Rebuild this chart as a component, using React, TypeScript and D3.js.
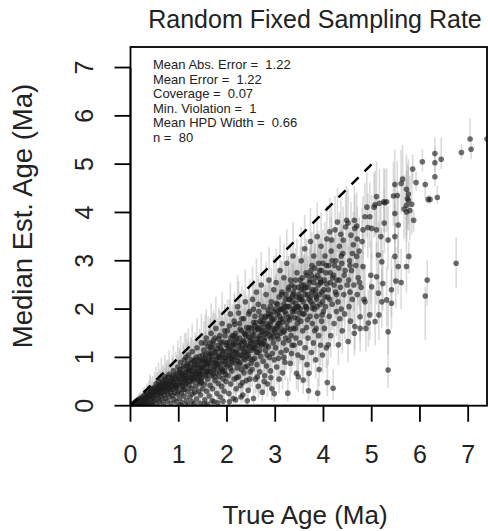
import React from "react";
import * as d3 from "d3";

const title = "Random Fixed Sampling Rate";
const xLabel = "True Age (Ma)";
const yLabel = "Median Est. Age (Ma)";
const xTicks = [0, 1, 2, 3, 4, 5, 6, 7];
const yTicks = [0, 1, 2, 3, 4, 5, 6, 7];
const statLabels = ["Mean Abs. Error = ", "Mean Error = ", "Coverage = ", "Min. Violation = ", "Mean HPD Width = ", "n = "];
const statValues = ["1.22", "1.22", "0.07", "1", "0.66", "80"];
const identityLine = [0, 5];

// [true age, median estimated age, HPD low, HPD high]
type Pt = [number, number, number, number];

const pts0to05: Pt[] = [[0.03,0.02,0.0,0.05],[0.05,0.04,0.01,0.09],[0.07,0.03,0.0,0.08],[0.09,0.07,0.02,0.14],[0.1,0.02,0.0,0.06],[0.12,0.09,0.03,0.18],[0.14,0.05,0.01,0.12],[0.15,0.11,0.04,0.22],[0.17,0.03,0.0,0.08],[0.18,0.13,0.05,0.26],[0.2,0.08,0.02,0.17],[0.21,0.16,0.06,0.3],[0.23,0.04,0.01,0.1],[0.24,0.12,0.04,0.25],[0.26,0.19,0.08,0.36],[0.27,0.07,0.02,0.15],[0.29,0.22,0.09,0.4],[0.3,0.14,0.05,0.3],[0.31,0.03,0.0,0.09],[0.33,0.1,0.03,0.22],[0.34,0.25,0.1,0.46],[0.35,0.17,0.06,0.33],[0.37,0.06,0.01,0.14],[0.38,0.28,0.12,0.52],[0.39,0.2,0.08,0.38],[0.41,0.12,0.04,0.26],[0.42,0.31,0.13,0.6],[0.43,0.04,0.0,0.11],[0.44,0.23,0.09,0.44],[0.45,0.16,0.05,0.33],[0.46,0.35,0.15,0.62],[0.47,0.09,0.02,0.2],[0.48,0.27,0.1,0.5],[0.49,0.2,0.07,0.4],[0.5,0.38,0.18,0.7],[0.22,0.01,0.0,0.04],[0.36,0.01,0.0,0.05],[0.45,0.02,0.0,0.07],[0.13,0.01,0.0,0.03],[0.4,0.36,0.2,0.65]];

const pts05to1: Pt[] = [[0.51,0.12,0.04,0.28],[0.52,0.3,0.12,0.58],[0.53,0.45,0.22,0.8],[0.54,0.05,0.01,0.13],[0.55,0.22,0.08,0.45],[0.56,0.37,0.16,0.7],[0.57,0.16,0.05,0.34],[0.58,0.5,0.25,0.9],[0.59,0.27,0.1,0.52],[0.6,0.08,0.02,0.18],[0.61,0.41,0.18,0.76],[0.62,0.2,0.07,0.42],[0.63,0.33,0.13,0.64],[0.64,0.55,0.3,1.0],[0.65,0.12,0.03,0.27],[0.66,0.28,0.1,0.55],[0.67,0.45,0.2,0.84],[0.68,0.03,0.0,0.09],[0.69,0.36,0.15,0.7],[0.7,0.22,0.08,0.46],[0.71,0.6,0.32,1.05],[0.72,0.15,0.05,0.32],[0.73,0.4,0.18,0.78],[0.74,0.3,0.11,0.6],[0.75,0.52,0.26,0.95],[0.76,0.09,0.02,0.2],[0.77,0.25,0.09,0.5],[0.78,0.44,0.2,0.85],[0.79,0.35,0.14,0.68],[0.8,0.65,0.36,1.15],[0.81,0.18,0.06,0.38],[0.82,0.48,0.22,0.9],[0.83,0.28,0.1,0.56],[0.84,0.05,0.01,0.12],[0.85,0.4,0.17,0.8],[0.86,0.58,0.3,1.05],[0.87,0.21,0.07,0.44],[0.88,0.34,0.13,0.66],[0.89,0.72,0.42,1.25],[0.9,0.13,0.04,0.3],[0.91,0.5,0.24,0.95],[0.92,0.27,0.1,0.55],[0.93,0.43,0.2,0.84],[0.94,0.62,0.33,1.12],[0.95,0.08,0.02,0.19],[0.96,0.37,0.15,0.72],[0.97,0.24,0.08,0.5],[0.98,0.8,0.48,1.35],[0.99,0.55,0.27,1.0],[1.0,0.31,0.12,0.62]];

const pts1to15: Pt[] = [[1.01,0.7,0.38,1.2],[1.02,0.15,0.05,0.33],[1.03,0.48,0.22,0.9],[1.04,0.9,0.55,1.45],[1.05,0.26,0.09,0.55],[1.06,0.62,0.32,1.1],[1.07,0.06,0.01,0.15],[1.08,0.4,0.17,0.8],[1.09,0.78,0.45,1.3],[1.1,0.55,0.27,1.0],[1.11,0.2,0.06,0.42],[1.12,0.95,0.6,1.5],[1.13,0.34,0.13,0.68],[1.14,0.68,0.36,1.18],[1.15,0.47,0.21,0.9],[1.16,0.1,0.02,0.24],[1.17,0.83,0.5,1.38],[1.18,0.58,0.29,1.05],[1.19,0.29,0.1,0.6],[1.2,1.05,0.68,1.6],[1.21,0.42,0.18,0.82],[1.22,0.72,0.4,1.25],[1.23,0.18,0.05,0.38],[1.24,0.52,0.25,0.98],[1.25,0.88,0.52,1.42],[1.26,0.36,0.14,0.72],[1.27,0.64,0.33,1.15],[1.28,1.12,0.75,1.7],[1.29,0.24,0.08,0.5],[1.3,0.5,0.23,0.95],[1.31,0.78,0.44,1.32],[1.32,0.04,0.0,0.11],[1.33,0.6,0.3,1.08],[1.34,0.95,0.58,1.52],[1.35,0.4,0.16,0.8],[1.36,0.7,0.37,1.22],[1.37,0.14,0.04,0.32],[1.38,1.2,0.82,1.8],[1.39,0.55,0.26,1.02],[1.4,0.85,0.5,1.4],[1.41,0.3,0.11,0.62],[1.42,0.66,0.34,1.18],[1.43,1.02,0.65,1.6],[1.44,0.46,0.2,0.9],[1.45,0.22,0.07,0.46],[1.46,0.75,0.42,1.3],[1.47,1.3,0.9,1.9],[1.48,0.58,0.28,1.06],[1.49,0.92,0.55,1.48],[1.5,0.35,0.13,0.7],[1.03,0.02,0.0,0.06],[1.18,0.02,0.0,0.07],[1.27,0.08,0.02,0.2],[1.44,0.05,0.01,0.13],[1.09,0.33,0.12,0.65],[1.21,0.8,0.46,1.33],[1.33,0.28,0.1,0.58],[1.41,0.5,0.23,0.95],[1.47,0.65,0.33,1.16],[1.15,1.0,0.65,1.52]];

const pts15to2: Pt[] = [[1.51,0.8,0.45,1.35],[1.52,1.15,0.75,1.75],[1.53,0.45,0.19,0.9],[1.54,0.12,0.03,0.28],[1.55,0.98,0.6,1.55],[1.56,0.65,0.33,1.18],[1.57,1.4,0.95,2.0],[1.58,0.3,0.1,0.62],[1.59,0.88,0.52,1.45],[1.6,0.55,0.26,1.05],[1.61,1.22,0.82,1.85],[1.62,0.72,0.38,1.28],[1.63,0.2,0.06,0.45],[1.64,1.05,0.66,1.65],[1.65,0.42,0.17,0.85],[1.66,0.82,0.46,1.4],[1.67,1.5,1.05,2.12],[1.68,0.62,0.3,1.14],[1.69,0.95,0.57,1.55],[1.7,0.35,0.12,0.72],[1.71,1.28,0.86,1.92],[1.72,0.75,0.4,1.3],[1.73,0.08,0.02,0.2],[1.74,1.1,0.7,1.72],[1.75,0.52,0.24,1.0],[1.76,0.9,0.53,1.5],[1.77,1.6,1.12,2.25],[1.78,0.68,0.34,1.22],[1.79,0.25,0.08,0.54],[1.8,1.18,0.76,1.82],[1.81,0.85,0.49,1.44],[1.82,0.46,0.2,0.92],[1.83,1.38,0.94,2.02],[1.84,0.6,0.29,1.12],[1.85,1.0,0.62,1.6],[1.86,0.18,0.05,0.42],[1.87,0.78,0.42,1.36],[1.88,1.3,0.88,1.95],[1.89,0.4,0.15,0.82],[1.9,1.7,1.2,2.35],[1.91,0.92,0.55,1.52],[1.92,0.56,0.26,1.08],[1.93,1.12,0.72,1.75],[1.94,0.3,0.1,0.63],[1.95,0.72,0.38,1.3],[1.96,1.45,1.0,2.1],[1.97,1.0,0.62,1.62],[1.98,0.5,0.22,0.98],[1.99,1.25,0.83,1.9],[2.0,0.82,0.46,1.42],[1.53,0.04,0.0,0.1],[1.6,0.03,0.0,0.08],[1.69,0.1,0.02,0.24],[1.81,0.06,0.01,0.15],[1.92,0.09,0.02,0.22],[1.55,1.3,0.9,1.9],[1.62,0.95,0.58,1.52],[1.72,1.35,0.93,1.98],[1.78,1.02,0.63,1.62],[1.85,0.7,0.36,1.26],[1.9,1.05,0.66,1.66],[1.97,0.65,0.32,1.2],[1.58,0.7,0.36,1.26],[1.66,1.2,0.8,1.82],[1.75,0.6,0.29,1.12]];

const pts2to25: Pt[] = [[2.01,1.55,1.08,2.2],[2.02,0.62,0.3,1.15],[2.03,1.05,0.66,1.68],[2.04,0.25,0.08,0.56],[2.05,1.32,0.9,1.98],[2.06,0.85,0.48,1.45],[2.07,1.9,1.4,2.55],[2.08,0.45,0.18,0.9],[2.09,1.15,0.74,1.8],[2.1,0.72,0.37,1.3],[2.11,1.45,1.0,2.1],[2.12,0.95,0.56,1.56],[2.13,0.15,0.04,0.36],[2.14,1.25,0.83,1.9],[2.15,0.55,0.25,1.05],[2.16,1.68,1.2,2.35],[2.17,0.88,0.5,1.48],[2.18,1.1,0.7,1.74],[2.19,0.35,0.12,0.72],[2.2,1.4,0.96,2.05],[2.21,0.78,0.42,1.36],[2.22,2.05,1.55,2.7],[2.23,1.0,0.6,1.62],[2.24,0.6,0.28,1.14],[2.25,1.3,0.88,1.96],[2.26,0.9,0.52,1.5],[2.27,1.58,1.1,2.25],[2.28,0.42,0.16,0.86],[2.29,1.18,0.76,1.82],[2.3,0.75,0.4,1.32],[2.31,1.8,1.3,2.48],[2.32,1.05,0.65,1.68],[2.33,0.22,0.07,0.5],[2.34,1.35,0.92,2.0],[2.35,0.68,0.34,1.24],[2.36,1.5,1.05,2.15],[2.37,0.95,0.57,1.55],[2.38,2.15,1.62,2.82],[2.39,1.22,0.8,1.86],[2.4,0.52,0.23,1.0],[2.41,1.62,1.14,2.28],[2.42,0.82,0.45,1.42],[2.43,1.12,0.72,1.75],[2.44,0.32,0.11,0.68],[2.45,1.42,0.98,2.08],[2.46,0.98,0.6,1.6],[2.47,1.95,1.45,2.62],[2.48,0.7,0.36,1.26],[2.49,1.28,0.85,1.93],[2.5,0.88,0.5,1.48],[2.05,0.08,0.02,0.2],[2.18,0.12,0.03,0.28],[2.29,0.18,0.05,0.4],[2.42,0.1,0.02,0.25],[2.12,1.25,0.82,1.9],[2.2,0.58,0.27,1.1],[2.26,1.7,1.22,2.36],[2.35,1.1,0.7,1.74],[2.44,1.55,1.08,2.2],[2.08,0.98,0.6,1.58],[2.15,1.45,1.0,2.1],[2.32,0.48,0.2,0.95],[2.38,0.8,0.44,1.4],[2.47,0.55,0.25,1.05],[2.24,1.92,1.42,2.58]];

const pts25to3: Pt[] = [[2.51,1.6,1.12,2.28],[2.52,0.75,0.4,1.32],[2.53,2.2,1.66,2.88],[2.54,1.2,0.78,1.86],[2.55,0.15,0.04,0.36],[2.56,1.45,1.0,2.1],[2.57,0.98,0.6,1.6],[2.58,1.85,1.34,2.52],[2.59,0.55,0.25,1.05],[2.6,1.3,0.87,1.96],[2.61,2.35,1.8,3.05],[2.62,0.85,0.48,1.45],[2.63,1.62,1.14,2.3],[2.64,1.1,0.7,1.74],[2.65,0.4,0.15,0.85],[2.66,1.95,1.44,2.62],[2.67,1.4,0.96,2.05],[2.68,0.7,0.36,1.26],[2.69,1.75,1.26,2.42],[2.7,1.02,0.63,1.65],[2.71,2.5,1.95,3.18],[2.72,1.25,0.82,1.9],[2.73,0.28,0.09,0.6],[2.74,1.55,1.08,2.22],[2.75,0.92,0.54,1.52],[2.76,2.05,1.52,2.74],[2.77,1.35,0.92,2.0],[2.78,0.62,0.3,1.15],[2.79,1.82,1.32,2.5],[2.8,1.15,0.74,1.8],[2.81,2.3,1.76,2.98],[2.82,0.82,0.46,1.42],[2.83,1.5,1.04,2.16],[2.84,0.45,0.18,0.9],[2.85,1.98,1.46,2.66],[2.86,1.22,0.8,1.88],[2.87,2.6,2.04,3.28],[2.88,1.0,0.6,1.62],[2.89,1.68,1.2,2.36],[2.9,0.72,0.38,1.3],[2.91,1.4,0.96,2.06],[2.92,2.15,1.6,2.84],[2.93,0.35,0.12,0.74],[2.94,1.08,0.68,1.72],[2.95,1.78,1.28,2.46],[2.96,1.3,0.88,1.96],[2.97,2.4,1.85,3.1],[2.98,0.95,0.57,1.56],[2.99,1.58,1.1,2.25],[3.0,2.0,1.48,2.7],[2.53,0.95,0.56,1.56],[2.58,1.2,0.78,1.85],[2.63,0.6,0.28,1.12],[2.68,1.15,0.74,1.8],[2.72,1.7,1.22,2.38],[2.77,0.5,0.22,0.98],[2.83,1.05,0.65,1.68],[2.88,1.85,1.34,2.54],[2.94,1.5,1.04,2.16],[2.98,0.25,0.08,0.55],[2.55,1.72,1.24,2.4],[2.65,1.58,1.1,2.24],[2.75,1.28,0.85,1.93],[2.85,1.65,1.18,2.32],[2.91,0.58,0.27,1.1]];

const pts3to35: Pt[] = [[3.01,1.2,0.78,1.86],[3.02,2.55,2.0,3.25],[3.03,0.8,0.44,1.4],[3.04,1.65,1.18,2.32],[3.05,2.1,1.56,2.8],[3.06,1.38,0.94,2.04],[3.07,0.98,0.6,1.6],[3.08,0.55,0.25,1.05],[3.09,1.85,1.34,2.55],[3.1,2.8,2.22,3.5],[3.11,1.5,1.04,2.16],[3.12,1.1,0.7,1.74],[3.13,2.3,1.75,3.0],[3.14,1.72,1.24,2.4],[3.15,0.68,0.34,1.24],[3.16,2.0,1.48,2.7],[3.17,1.3,0.87,1.96],[3.18,2.65,2.08,3.35],[3.19,1.55,1.08,2.22],[3.2,0.9,0.53,1.5],[3.21,2.2,1.66,2.9],[3.22,1.9,1.38,2.58],[3.23,1.15,0.74,1.8],[3.24,2.95,2.36,3.65],[3.25,1.62,1.14,2.3],[3.26,0.26,0.08,0.58],[3.27,2.4,1.84,3.1],[3.28,1.35,0.92,2.0],[3.29,2.05,1.52,2.74],[3.3,1.78,1.28,2.46],[3.31,0.88,0.5,1.48],[3.32,2.6,2.04,3.3],[3.33,1.45,1.0,2.1],[3.34,1.08,0.68,1.72],[3.35,2.25,1.7,2.94],[3.36,1.95,1.44,2.62],[3.37,3.1,2.5,3.8],[3.38,1.6,1.12,2.28],[3.39,1.25,0.82,1.9],[3.4,2.45,1.9,3.15],[3.41,1.82,1.32,2.5],[3.42,2.12,1.58,2.82],[3.43,1.4,0.96,2.06],[3.44,0.67,0.33,1.22],[3.45,2.75,2.18,3.45],[3.46,1.7,1.22,2.38],[3.47,1.05,0.65,1.68],[3.48,0.6,0.28,1.12],[3.49,2.3,1.75,3.0],[3.5,1.92,1.4,2.6],[3.05,1.45,1.0,2.1],[3.12,2.0,1.48,2.68],[3.18,1.0,0.62,1.62],[3.28,2.2,1.66,2.88],[3.35,1.25,0.83,1.9],[3.42,1.6,1.12,2.28],[3.48,2.05,1.52,2.74],[3.08,1.7,1.22,2.38],[3.22,1.4,0.96,2.06],[3.38,2.0,1.48,2.7]];

const pts35to4: Pt[] = [[3.51,1.3,0.87,1.96],[3.52,2.6,2.04,3.3],[3.53,1.75,1.26,2.42],[3.54,3.0,2.4,3.7],[3.55,2.2,1.66,2.9],[3.56,1.0,0.62,1.62],[3.57,1.55,1.08,2.22],[3.58,0.53,0.24,1.02],[3.59,2.4,1.84,3.1],[3.6,1.9,1.38,2.58],[3.61,3.25,2.64,3.95],[3.62,1.2,0.78,1.86],[3.63,2.05,1.52,2.74],[3.64,2.75,2.18,3.45],[3.65,1.62,1.14,2.3],[3.66,0.85,0.48,1.45],[3.67,2.3,1.75,3.0],[3.68,1.4,0.96,2.06],[3.69,0.31,0.1,0.66],[3.7,0.67,0.33,1.22],[3.71,2.55,2.0,3.25],[3.72,1.85,1.34,2.52],[3.73,3.4,2.8,4.1],[3.74,2.15,1.6,2.85],[3.75,1.1,0.7,1.74],[3.76,2.9,2.3,3.6],[3.77,1.7,1.22,2.38],[3.78,2.4,1.84,3.1],[3.79,1.3,0.87,1.96],[3.8,3.1,2.5,3.8],[3.81,2.0,1.48,2.7],[3.82,1.55,1.08,2.22],[3.83,2.65,2.08,3.35],[3.84,0.95,0.57,1.56],[3.85,2.25,1.7,2.94],[3.86,1.85,1.34,2.54],[3.87,3.5,2.9,4.2],[3.88,0.26,0.08,0.58],[3.89,2.5,1.95,3.2],[3.9,1.45,1.0,2.1],[3.91,0.75,0.4,1.32],[3.92,2.8,2.22,3.5],[3.93,2.1,1.56,2.8],[3.94,1.25,0.83,1.9],[3.95,3.3,2.7,4.0],[3.96,1.75,1.26,2.42],[3.97,2.35,1.8,3.05],[3.98,1.05,0.66,1.68],[3.99,2.95,2.36,3.65],[4.0,1.95,1.44,2.62],[3.55,2.5,1.95,3.2],[3.65,2.0,1.48,2.68],[3.75,2.7,2.12,3.4],[3.85,1.6,1.12,2.28],[3.95,2.55,2.0,3.25]];

const pts4to45: Pt[] = [[4.01,2.4,1.84,3.1],[4.02,1.6,1.12,2.28],[4.03,3.1,2.5,3.8],[4.04,2.05,1.52,2.74],[4.05,2.75,2.18,3.45],[4.06,1.2,0.78,1.86],[4.07,3.45,2.84,4.15],[4.08,0.48,0.2,0.96],[4.09,2.25,1.7,2.94],[4.1,1.26,0.84,1.92],[4.11,2.9,2.3,3.6],[4.12,1.85,1.34,2.52],[4.13,3.6,3.0,4.3],[4.14,2.55,2.0,3.25],[4.15,1.45,1.0,2.1],[4.16,3.2,2.6,3.9],[4.17,3.43,2.82,4.12],[4.18,2.1,1.56,2.8],[4.2,0.36,0.12,0.76],[4.21,2.7,2.12,3.4],[4.22,1.7,1.22,2.38],[4.24,3.64,3.02,4.34],[4.25,2.35,1.8,3.05],[4.26,3.0,2.4,3.7],[4.27,1.95,1.44,2.62],[4.28,2.6,2.04,3.3],[4.29,3.8,3.18,4.5],[4.3,2.15,1.6,2.85],[4.31,1.26,0.84,1.92],[4.32,2.85,2.26,3.55],[4.33,3.3,2.7,4.0],[4.34,1.8,1.3,2.48],[4.35,2.45,1.9,3.15],[4.36,3.55,2.95,4.25],[4.37,2.0,1.48,2.7],[4.38,2.95,2.36,3.65],[4.39,1.55,1.08,2.22],[4.4,3.15,2.55,3.85],[4.41,3.43,2.82,4.12],[4.42,2.3,1.75,3.0],[4.43,2.7,2.12,3.4],[4.44,1.9,1.38,2.58],[4.46,3.7,3.1,4.4],[4.48,3.84,3.22,4.55],[4.49,2.5,1.95,3.2]];

const pts45to5: Pt[] = [[4.51,1.33,0.9,2.0],[4.51,3.78,3.16,4.48],[4.52,2.6,2.04,3.3],[4.53,2.05,1.52,2.74],[4.54,3.0,2.4,3.7],[4.55,2.35,1.8,3.05],[4.56,1.75,1.26,2.42],[4.57,3.53,2.92,4.22],[4.58,2.8,2.22,3.5],[4.6,2.2,1.66,2.9],[4.62,3.33,2.73,4.02],[4.63,2.5,1.95,3.2],[4.64,3.84,3.22,4.55],[4.64,1.5,1.04,2.16],[4.65,1.64,1.16,2.32],[4.65,3.67,3.05,4.36],[4.67,2.9,2.3,3.6],[4.69,3.72,3.1,4.42],[4.69,3.09,2.5,3.8],[4.7,2.3,1.75,3.0],[4.72,2.65,2.08,3.35],[4.74,3.2,2.6,3.9],[4.76,1.84,1.33,2.52],[4.76,1.6,1.12,2.28],[4.78,2.45,1.9,3.15],[4.8,3.4,2.8,4.1],[4.82,3.64,3.02,4.34],[4.82,2.88,2.28,3.58],[4.84,2.2,1.66,2.9],[4.86,3.91,3.28,4.62],[4.86,2.15,1.6,2.85],[4.88,1.6,1.12,2.28],[4.9,4.11,3.48,4.82],[4.92,3.69,3.06,4.4],[4.93,1.71,1.22,2.4],[4.96,3.91,3.28,4.62],[4.96,1.88,1.36,2.56],[4.98,2.7,2.12,3.4]];

const pts5to56: Pt[] = [[5.0,2.46,1.9,3.15],[5.0,3.67,3.05,4.36],[5.05,4.11,3.48,4.82],[5.07,1.74,1.25,2.42],[5.07,4.16,3.52,4.86],[5.1,4.33,3.7,5.05],[5.1,3.64,3.02,4.34],[5.1,2.67,2.1,3.38],[5.14,2.33,1.78,3.02],[5.14,3.12,2.52,3.82],[5.15,1.88,1.36,2.56],[5.16,4.19,3.56,4.9],[5.19,3.5,2.9,4.2],[5.21,2.98,2.4,3.68],[5.21,2.15,1.6,2.85],[5.23,2.53,1.98,3.22],[5.25,4.22,3.6,4.92],[5.26,3.78,3.16,4.48],[5.27,4.2,3.58,4.9],[5.31,4.22,3.6,4.92],[5.31,2.19,1.64,2.88],[5.34,3.43,2.82,4.12],[5.34,1.53,1.06,2.2],[5.34,0.74,0.37,1.56],[5.41,2.4,1.84,3.1],[5.41,2.12,1.58,2.82],[5.45,4.34,3.72,5.05],[5.48,4.58,3.95,5.3],[5.48,3.98,3.36,4.68],[5.48,3.5,2.9,4.2],[5.48,3.09,2.5,3.8],[5.5,2.58,2.02,3.28],[5.53,4.35,3.72,5.06],[5.55,3.74,3.12,4.44],[5.55,2.88,2.3,3.58]];

const pts56to74: Pt[] = [[5.61,4.6,3.98,5.3],[5.61,2.55,2.0,3.25],[5.64,4.69,4.06,5.4],[5.67,4.07,3.45,4.78],[5.72,4.48,3.86,5.2],[5.72,4.15,3.52,4.86],[5.72,4.01,3.4,4.72],[5.72,2.88,2.33,3.92],[5.74,4.29,3.66,5.0],[5.76,4.25,3.62,4.96],[5.76,4.38,3.75,5.1],[5.77,3.09,2.74,3.4],[5.79,4.04,3.42,4.75],[5.83,4.17,3.55,4.88],[5.85,4.9,4.6,5.2],[5.87,3.84,3.6,4.05],[5.92,4.62,4.45,4.85],[6.05,5.05,4.85,5.3],[6.11,4.58,4.3,4.7],[6.11,2.27,1.36,2.46],[6.15,2.6,2.08,3.02],[6.17,4.27,4.18,4.36],[6.21,4.27,4.18,4.36],[6.31,5.22,4.98,5.55],[6.31,5.03,4.85,5.35],[6.31,4.74,4.55,4.95],[6.36,4.31,4.18,4.55],[6.44,5.1,4.9,5.55],[6.75,2.95,2.43,3.48],[6.86,5.24,5.1,5.42],[7.04,5.52,5.47,5.95],[7.06,5.31,5.1,5.45],[7.39,5.52,5.3,5.7]];

const ptsCoreLow: Pt[] = [[0.32,0.18,0.07,0.32],[0.36,0.22,0.09,0.38],[0.41,0.2,0.08,0.36],[0.44,0.3,0.13,0.5],[0.48,0.24,0.1,0.42],[0.52,0.35,0.15,0.58],[0.55,0.28,0.11,0.48],[0.57,0.4,0.18,0.66],[0.6,0.32,0.13,0.55],[0.62,0.45,0.21,0.72],[0.64,0.26,0.1,0.46],[0.66,0.38,0.17,0.62],[0.68,0.5,0.25,0.8],[0.7,0.33,0.14,0.56],[0.72,0.44,0.2,0.72],[0.74,0.55,0.28,0.88],[0.76,0.36,0.15,0.6],[0.78,0.6,0.32,0.95],[0.8,0.45,0.21,0.74],[0.82,0.34,0.14,0.58],[0.84,0.52,0.26,0.84],[0.86,0.42,0.19,0.7],[0.88,0.62,0.33,0.98],[0.9,0.47,0.22,0.78],[0.92,0.38,0.16,0.64],[0.94,0.55,0.28,0.88],[0.96,0.66,0.36,1.05],[0.98,0.44,0.2,0.74],[1.0,0.58,0.3,0.93],[1.02,0.75,0.43,1.15],[1.04,0.5,0.24,0.82],[1.06,0.42,0.18,0.72],[1.08,0.62,0.33,0.98],[1.1,0.82,0.48,1.22],[1.12,0.56,0.28,0.9],[1.14,0.45,0.2,0.76],[1.16,0.7,0.39,1.08],[1.18,0.88,0.53,1.3],[1.2,0.6,0.31,0.96],[1.22,0.5,0.24,0.84],[1.24,0.76,0.43,1.16],[1.26,0.95,0.58,1.38],[1.28,0.65,0.34,1.02],[1.3,0.55,0.27,0.9],[1.32,0.82,0.47,1.24],[1.34,0.7,0.38,1.08],[1.36,1.0,0.62,1.45],[1.38,0.6,0.3,0.96],[1.4,0.76,0.42,1.16],[1.42,0.92,0.56,1.36],[1.44,0.66,0.35,1.04],[1.46,0.55,0.27,0.9],[1.48,0.82,0.47,1.24],[1.5,1.05,0.66,1.5],[1.05,0.68,0.37,1.06],[1.15,0.62,0.32,0.98],[1.25,0.72,0.4,1.1],[1.35,0.86,0.5,1.28],[1.45,0.95,0.58,1.4],[1.49,0.72,0.4,1.1]];

const ptsCoreMid: Pt[] = [[1.52,0.78,0.44,1.2],[1.54,0.9,0.53,1.34],[1.56,1.05,0.65,1.52],[1.58,0.85,0.49,1.3],[1.6,0.72,0.39,1.12],[1.62,1.1,0.7,1.58],[1.64,0.92,0.55,1.38],[1.66,0.7,0.37,1.1],[1.68,1.02,0.63,1.5],[1.7,1.2,0.78,1.7],[1.72,0.88,0.52,1.34],[1.74,0.78,0.43,1.2],[1.76,1.12,0.72,1.6],[1.78,0.95,0.57,1.42],[1.8,0.8,0.45,1.22],[1.82,1.25,0.83,1.75],[1.84,1.05,0.66,1.54],[1.86,0.88,0.51,1.34],[1.88,1.15,0.74,1.64],[1.9,0.75,0.41,1.16],[1.92,1.32,0.89,1.84],[1.94,1.0,0.62,1.48],[1.96,0.85,0.49,1.3],[1.98,1.12,0.72,1.6],[2.0,1.3,0.88,1.82],[2.02,0.95,0.57,1.42],[2.04,1.18,0.77,1.68],[2.06,1.05,0.66,1.54],[2.08,1.4,0.96,1.94],[2.1,0.9,0.53,1.36],[2.12,1.12,0.72,1.62],[2.14,1.3,0.88,1.82],[2.16,1.0,0.62,1.48],[2.18,1.5,1.04,2.05],[2.2,1.15,0.74,1.65],[2.22,0.92,0.55,1.38],[2.24,1.25,0.83,1.76],[2.26,1.4,0.96,1.94],[2.28,1.05,0.66,1.54],[2.3,1.55,1.08,2.1],[2.32,1.2,0.78,1.7],[2.34,0.98,0.6,1.46],[2.36,1.32,0.89,1.84],[2.38,1.12,0.72,1.62],[2.4,1.45,1.0,2.0],[2.42,1.25,0.83,1.76],[2.44,1.05,0.66,1.54],[2.46,1.62,1.14,2.18],[2.48,1.35,0.92,1.88],[2.5,1.15,0.74,1.66],[2.52,1.48,1.02,2.02],[2.54,1.3,0.88,1.82],[2.56,1.18,0.77,1.68],[2.58,1.55,1.08,2.1],[2.6,1.72,1.22,2.3],[2.62,1.38,0.94,1.9],[2.64,1.25,0.83,1.76],[2.66,1.6,1.12,2.16],[2.68,1.45,1.0,2.0],[2.7,1.3,0.88,1.82],[1.65,1.3,0.88,1.8],[1.75,1.4,0.96,1.92],[1.85,1.45,1.0,1.98],[1.95,1.55,1.08,2.1],[2.05,1.65,1.16,2.2],[2.15,1.75,1.25,2.3],[2.35,1.8,1.3,2.38],[2.45,1.9,1.38,2.48],[2.55,2.0,1.48,2.6],[2.65,2.1,1.56,2.7]];

const ptsCoreHigh: Pt[] = [[2.72,1.52,1.06,2.08],[2.74,1.75,1.26,2.32],[2.76,1.62,1.14,2.18],[2.78,1.4,0.96,1.94],[2.8,1.85,1.34,2.44],[2.82,1.7,1.22,2.26],[2.84,1.55,1.08,2.1],[2.86,1.9,1.38,2.5],[2.88,1.45,1.0,2.0],[2.9,2.05,1.52,2.66],[2.92,1.75,1.26,2.32],[2.94,1.6,1.12,2.16],[2.96,1.95,1.44,2.56],[2.98,1.8,1.3,2.38],[3.0,1.52,1.06,2.08],[3.02,2.12,1.58,2.74],[3.04,1.9,1.38,2.5],[3.06,1.7,1.22,2.26],[3.08,2.25,1.7,2.88],[3.1,2.0,1.48,2.6],[3.12,1.6,1.12,2.16],[3.14,2.35,1.8,2.98],[3.16,1.8,1.3,2.38],[3.18,2.1,1.56,2.72],[3.2,1.95,1.44,2.56],[3.22,2.3,1.75,2.94],[3.24,1.72,1.24,2.28],[3.26,2.05,1.52,2.66],[3.28,2.45,1.9,3.1],[3.3,2.2,1.66,2.82],[3.32,1.85,1.34,2.44],[3.34,2.5,1.95,3.14],[3.36,2.15,1.6,2.78],[3.38,2.35,1.8,2.98],[3.4,1.95,1.44,2.56],[3.42,2.6,2.04,3.26],[3.44,2.25,1.7,2.88],[3.46,2.05,1.52,2.66],[3.48,2.45,1.9,3.1],[3.5,2.2,1.66,2.82],[3.52,2.0,1.48,2.6],[3.54,2.4,1.84,3.04],[3.56,2.65,2.08,3.3],[3.58,2.15,1.6,2.78],[3.6,2.5,1.95,3.14],[3.62,2.3,1.75,2.94],[3.64,2.05,1.52,2.66],[3.66,2.7,2.12,3.36],[3.68,2.45,1.9,3.1],[3.7,2.2,1.66,2.82],[3.72,2.6,2.04,3.26],[3.74,2.8,2.22,3.46],[3.76,2.35,1.8,2.98],[3.78,2.1,1.56,2.72],[3.8,2.55,2.0,3.2],[3.82,2.85,2.26,3.52],[3.84,2.4,1.84,3.04],[3.86,2.2,1.66,2.82],[3.88,2.7,2.12,3.36],[3.9,2.95,2.36,3.62],[3.92,2.3,1.75,2.94],[3.94,2.55,2.0,3.2],[3.96,2.8,2.22,3.46],[3.98,2.15,1.6,2.78],[4.02,2.6,2.04,3.26],[4.06,2.9,2.3,3.56],[4.1,2.4,1.84,3.04],[4.14,2.75,2.18,3.42],[4.18,3.0,2.4,3.68],[4.22,2.5,1.95,3.16]];

const ptsCoreExtra: Pt[] = [[0.58,0.33,0.14,0.56],[0.73,0.47,0.22,0.76],[0.87,0.55,0.28,0.88],[0.95,0.41,0.18,0.7],[1.07,0.66,0.35,1.02],[1.13,0.52,0.25,0.86],[1.19,0.74,0.41,1.12],[1.27,0.58,0.29,0.94],[1.31,0.92,0.56,1.36],[1.37,0.66,0.35,1.04],[1.43,0.8,0.46,1.22],[1.47,0.48,0.22,0.82],[1.53,0.95,0.57,1.42],[1.57,0.62,0.31,1.0],[1.61,0.84,0.48,1.28],[1.67,1.08,0.68,1.56],[1.71,0.66,0.35,1.04],[1.77,0.86,0.5,1.3],[1.83,1.0,0.62,1.48],[1.87,1.2,0.78,1.7],[1.91,0.7,0.37,1.1],[1.97,0.92,0.55,1.38],[2.03,1.22,0.8,1.72],[2.07,0.78,0.43,1.2],[2.11,1.02,0.63,1.5],[2.17,1.35,0.92,1.86],[2.21,1.08,0.68,1.56],[2.27,0.86,0.5,1.3],[2.31,1.3,0.88,1.82],[2.37,1.48,1.02,2.02],[2.41,1.02,0.63,1.5],[2.47,1.22,0.8,1.72],[2.51,1.38,0.94,1.9],[2.57,1.65,1.16,2.2],[2.61,1.1,0.7,1.6],[2.67,1.32,0.89,1.84],[2.71,1.85,1.34,2.42],[2.77,1.48,1.02,2.02],[2.81,1.25,0.83,1.76],[2.87,1.62,1.14,2.18],[2.91,1.88,1.36,2.46],[2.97,1.42,0.98,1.96],[3.03,1.6,1.12,2.16],[3.07,1.95,1.44,2.54],[3.11,1.78,1.28,2.36],[3.17,1.52,1.06,2.08],[3.21,2.05,1.52,2.66],[3.27,1.82,1.32,2.4],[3.31,1.58,1.1,2.14],[3.37,2.3,1.75,2.92],[3.41,2.02,1.5,2.62],[3.47,1.8,1.3,2.38],[3.53,2.25,1.7,2.88],[3.57,1.9,1.38,2.5],[3.63,2.45,1.9,3.08],[3.67,1.78,1.28,2.36],[3.73,2.25,1.7,2.88],[3.77,2.02,1.5,2.62],[3.83,2.3,1.75,2.92],[3.87,2.05,1.52,2.66],[3.93,2.62,2.06,3.28],[3.97,1.88,1.36,2.46],[4.03,2.25,1.7,2.88],[4.07,2.52,1.96,3.16],[4.13,2.2,1.66,2.82],[4.19,2.65,2.08,3.3],[4.23,2.9,2.3,3.56],[4.27,2.3,1.75,2.92],[4.33,2.6,2.04,3.24],[4.37,3.1,2.5,3.76],[4.45,2.8,2.22,3.44],[4.55,2.9,2.3,3.56],[4.6,3.15,2.55,3.82],[4.7,3.45,2.84,4.12],[4.75,2.55,2.0,3.2],[0.25,0.1,0.03,0.22],[0.3,0.07,0.02,0.16],[0.35,0.12,0.04,0.26],[0.2,0.12,0.04,0.24],[0.15,0.07,0.02,0.14]];

const allPoints: Pt[] = [
  ...pts0to05, ...pts05to1, ...pts1to15, ...pts15to2, ...pts2to25, ...pts25to3,
  ...pts3to35, ...pts35to4, ...pts4to45, ...pts45to5, ...pts5to56, ...pts56to74,
  ...ptsCoreLow, ...ptsCoreMid, ...ptsCoreHigh, ...ptsCoreExtra,
];

export default function App() {
  const W = 488;
  const H = 531;
  const left = 130.5, right = 487, top = 47, bottom = 405.7;
  const x = d3.scaleLinear().domain([0, 7.39]).range([left, right]);
  const y = d3.scaleLinear().domain([0, 7.425]).range([bottom, top]);
  const font = "'Liberation Sans', Arial, Helvetica, sans-serif";
  const tickLen = 16;
  const yLabX = 93;

  return (
    <svg width={W} height={H} viewBox={`0 0 ${W} ${H}`}
      style={{ position: "absolute", left: 0, top: 0, background: "#fff" }}
      fontFamily={font}>
      <defs>
        <clipPath id="plotClip">
          <rect x={left} y={top} width={right - left} height={bottom - top} />
        </clipPath>
      </defs>
      <rect x={0} y={0} width={W} height={H} fill="#fff" />
      <g clipPath="url(#plotClip)">
        <g>
          {allPoints.map((p, i) => (
            <line key={"h" + i} x1={x(p[0])} x2={x(p[0])} y1={y(p[2])} y2={y(p[3])}
              stroke="#b0b0b0" strokeOpacity={0.45} strokeWidth={1.6} />
          ))}
        </g>
        <g>
          {allPoints.map((p, i) => (
            <circle key={"c" + i} cx={x(p[0])} cy={y(p[1])} r={2.8}
              fill="#1e1e1e" fillOpacity={0.64} />
          ))}
        </g>
        <line x1={x(identityLine[0])} y1={y(identityLine[0])} x2={x(identityLine[1])} y2={y(identityLine[1])}
          stroke="#000" strokeWidth={2.5} strokeDasharray="10 8.4" />
      </g>
      <rect x={left} y={top} width={right - left} height={bottom - top} fill="none" stroke="#000" strokeWidth={1.8} />
      {/* x axis */}
      <line x1={x(xTicks[0])} x2={x(xTicks[xTicks.length - 1])} y1={bottom} y2={bottom} stroke="#000" strokeWidth={1.8} />
      {xTicks.map((t) => (
        <g key={"xt" + t}>
          <line x1={x(t)} x2={x(t)} y1={bottom} y2={bottom + tickLen} stroke="#000" strokeWidth={1.8} />
          <text x={x(t)} y={463} textAnchor="middle" fontSize={25} fill="#222">{t}</text>
        </g>
      ))}
      {/* y axis */}
      <line x1={left} x2={left} y1={y(yTicks[0])} y2={y(yTicks[yTicks.length - 1])} stroke="#000" strokeWidth={1.8} />
      {yTicks.map((t) => (
        <line key={"ytl" + t} x1={left - tickLen} x2={left} y1={y(t)} y2={y(t)} stroke="#000" strokeWidth={1.8} />
      ))}
      {yTicks.map((t) => (
        <text key={"ytt" + t} x={yLabX} y={y(t)} transform={`rotate(-90 ${yLabX} ${y(t)})`}
          textAnchor="middle" fontSize={25} fill="#222">{String(t)}</text>
      ))}
      <text x={315} y={28} textAnchor="middle" fontSize={25} fill="#222">{title}</text>
      <text x={305} y={524} textAnchor="middle" fontSize={26} fill="#222">{xLabel}</text>
      <text x={32} y={216} transform="rotate(-90 32 216)" textAnchor="middle" fontSize={27.5} fill="#222">{yLabel}</text>
      {statLabels.map((s, i) => (
        <text key={"s" + i} x={153} y={69 + i * 14.5} fontSize={13} fill="#222" style={{ whiteSpace: "pre" }}>
          {s + " " + statValues[i]}
        </text>
      ))}
    </svg>
  );
}
